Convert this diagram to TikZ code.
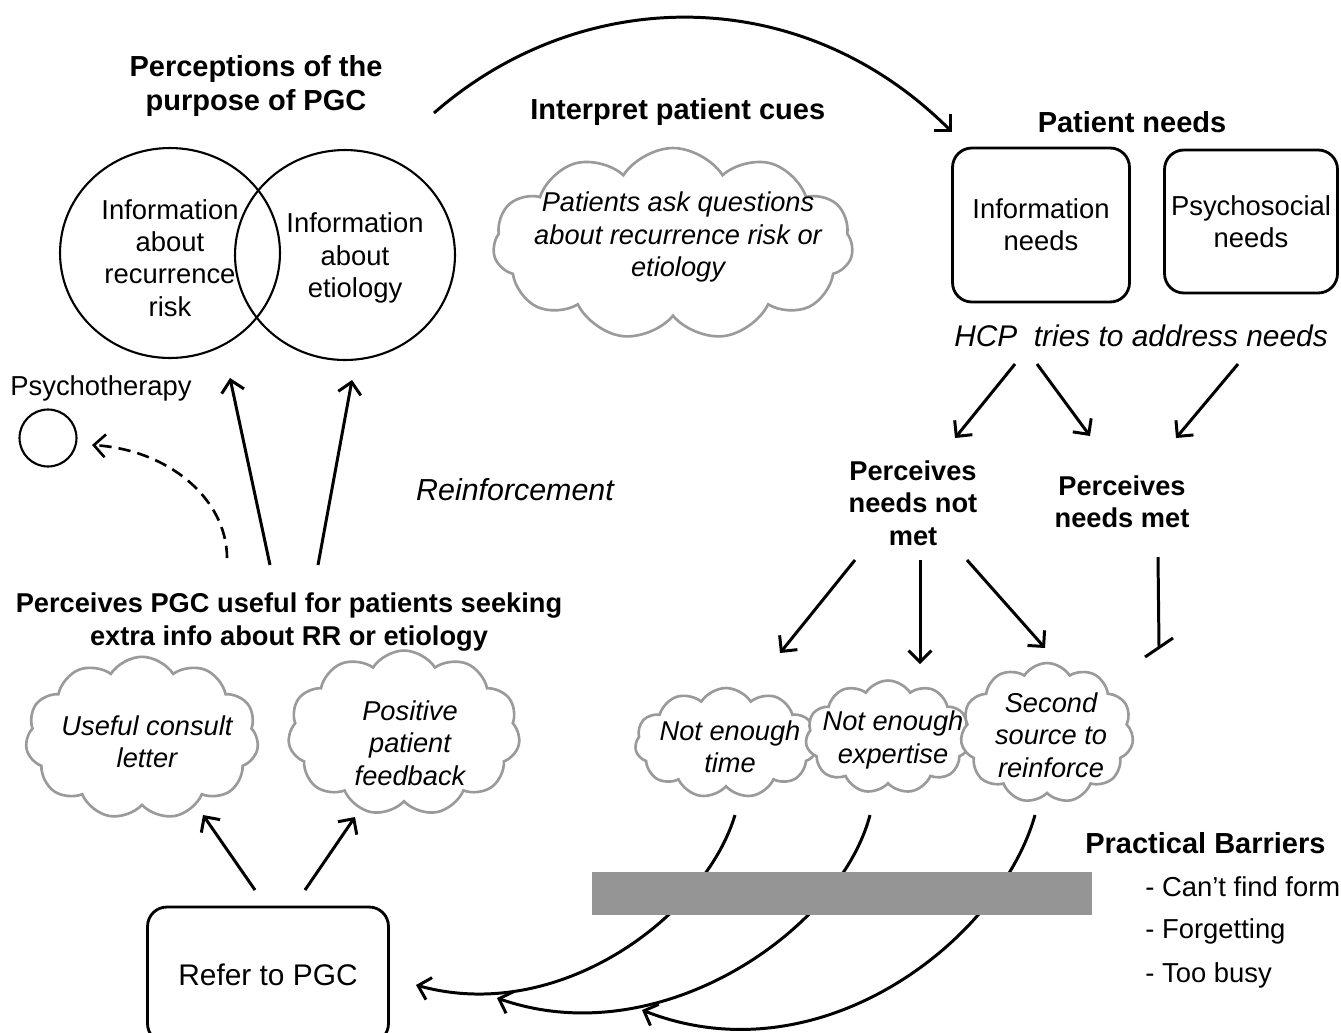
\documentclass[tikz,border=0pt]{standalone}
\usepackage{fontspec}
\setmainfont{Liberation Sans}
\usetikzlibrary{shapes.symbols,shapes.geometric,arrows.meta}
\definecolor{cloudgray}{HTML}{9A9A9A}
\definecolor{bargray}{HTML}{959595}
\begin{document}
\begin{tikzpicture}[x=0.02cm,y=-0.02cm,
  arr/.style={line width=1.7pt,-{Straight Barb[length=6.5pt,width=13pt]}},
  fB/.style={font=\fontsize{16.5}{19.8}\selectfont\bfseries,align=center,inner sep=0pt},
  fb/.style={font=\fontsize{15.5}{18.4}\selectfont\bfseries,align=center,inner sep=0pt},
  fn/.style={font=\fontsize{15.6}{18.3}\selectfont,align=center,inner sep=0pt},
  fi/.style={font=\fontsize{15.5}{18.4}\selectfont\itshape,align=center,inner sep=0pt},
  cl/.style={cloud,cloud puffs=11,cloud puff arc=115,cloud ignores aspect,draw=cloudgray,line width=1.5pt,fill=white,inner sep=0pt},
  rbox/.style={draw,rounded corners=11pt,line width=1.6pt,inner sep=0pt,align=center},
  ring/.style={ellipse,draw,line width=1.2pt,inner sep=0pt}]
\useasboundingbox (0,0) rectangle (1341,1032);

% Venn circles
\node[ring,minimum width=4.4cm,minimum height=4.2cm] (rr) at (170,253) {};
\node[ring,minimum width=4.4cm,minimum height=4.2cm] (eti) at (345,255) {};
\node[fn] (rrt) at (170,258) {Information\\about\\recurrence\\risk};
\node[fn] (etit) at (355,258) {Information\\about\\etiology};

% titles
\node[fB] (purp) at (256,86) {Perceptions of the\\purpose of PGC};
\node[fB,anchor=west] (cues) at (530,112) {Interpret patient cues};
\node[fB] (pneeds) at (1132,122) {Patient needs};

% patient cue cloud
\node[cl,minimum width=7.2cm,minimum height=3.84cm] (cue) at (673,244) {};
\node[fi] (cuet) at (678,237) {Patients ask questions\\about recurrence risk or\\etiology};

% needs boxes
\node[rbox,fn,minimum width=3.54cm,minimum height=3.08cm] (info) at (1041,225) {Information\\needs};
\node[rbox,fn,minimum width=3.46cm,minimum height=2.86cm] (psy) at (1251,221.5) {Psychosocial\\needs};
\node[fn,font=\fontsize{17}{20}\selectfont\itshape] (hcp) at (1141,336) {HCP\ \ tries to address needs};

\node[fb] (notmet) at (913,503) {Perceives\\needs not\\met};
\node[fb] (met) at (1122,502) {Perceives\\needs met};

% left side
\node[fn,anchor=west] (pt) at (10,388) {Psychotherapy};
\node[circle,draw,line width=1.2pt,minimum size=1.14cm,inner sep=0pt] (ptc) at (48,438) {};
\node[fn,font=\fontsize{17.3}{20}\selectfont\itshape] (reinf) at (515,490) {Reinforcement};
\node[fb] (useful) at (289,622) {Perceives PGC useful for patients seeking\\extra info about RR or etiology};

\node[cl,minimum width=4.66cm,minimum height=3.25cm] (letter) at (142,738) {};
\node[fi] (lettert) at (147,742) {Useful consult\\letter};
\node[cl,minimum width=4.64cm,minimum height=3.3cm] (feedb) at (404,733) {};
\node[fi] (feedbt) at (410,743) {Positive\\patient\\feedback};

\node[rbox,font=\fontsize{17}{20}\selectfont,minimum width=4.82cm,minimum height=2.72cm] (refer) at (268,975) {Refer to PGC};

% barrier clouds
\node[cl,minimum width=3.64cm,minimum height=2.2cm] (time) at (726,743) {};
\node[cl,minimum width=3.3cm,minimum height=2.26cm] (expert) at (888,737) {};
\node[cl,minimum width=3.46cm,minimum height=2.8cm] (second) at (1047,733) {};
\node[fi] (timet) at (730,747) {Not enough\\time};
\node[fi] (expertt) at (893,740) {Not enough\\expertise};
\node[fi] (secondt) at (1051,735) {Second\\source to\\reinforce};

% practical barriers
\node[fB,anchor=west] (pb) at (1085,843) {Practical Barriers};
\node[fn,anchor=west] (pb1) at (1145,887) {- Can’t find form};
\node[fn,anchor=west] (pb2) at (1145,931) {- Forgetting};
\node[fn,anchor=west] (pb3) at (1145,975) {- Too busy};

% coordinates
\coordinate (purpA) at (434,113);
\coordinate (needsA) at (952,132);
\coordinate (a1s) at (1015,364); \coordinate (a1e) at (955,438);
\coordinate (a2s) at (1037,364); \coordinate (a2e) at (1090,436);
\coordinate (a3s) at (1238,364); \coordinate (a3e) at (1176,438);
\coordinate (b1s) at (855,560);  \coordinate (b1e) at (780,653);
\coordinate (b2s) at (920,560);  \coordinate (b2e) at (920,664);
\coordinate (b3s) at (967,560);  \coordinate (b3e) at (1045,648);
\coordinate (u1s) at (270,565);  \coordinate (u1e) at (230,378);
\coordinate (u2s) at (318,565);  \coordinate (u2e) at (352,380);
\coordinate (r1s) at (255,890);  \coordinate (r1e) at (203,815);
\coordinate (r2s) at (305,890);  \coordinate (r2e) at (355,817);
\coordinate (d1s) at (227,558);  \coordinate (d1e) at (92,445);
\coordinate (ts) at (1158,557);  \coordinate (te) at (1159,647);
\coordinate (tl) at (1145,657);  \coordinate (tr) at (1173,638);
\coordinate (c1s) at (735,815);  \coordinate (c1e) at (416,985);
\coordinate (c2s) at (870,815);  \coordinate (c2e) at (497,998);
\coordinate (c3s) at (1035,815); \coordinate (c3e) at (642,1010);

% connectors
\draw[arr] (purpA) .. controls (580,-15) and (800,-20) .. (needsA);
\foreach \s/\e in {a1s/a1e,a2s/a2e,a3s/a3e,b1s/b1e,b2s/b2e,b3s/b3e,u1s/u1e,u2s/u2e,r1s/r1e,r2s/r2e}
  \draw[arr] (\s) -- (\e);
\draw[arr,line width=1.5pt,dash pattern=on 7pt off 4pt] (d1s) .. controls (227,500) and (170,450) .. (d1e);
\draw[line width=1.7pt] (ts) -- (te);
\draw[line width=1.7pt] (tl) -- (tr);

\draw[arr] (c1s) .. controls (705,915) and (560,1025) .. (c1e);
\draw[arr] (c2s) .. controls (840,930) and (660,1055) .. (c2e);
\draw[arr] (c3s) .. controls (1000,940) and (820,1080) .. (c3e);

\node[fill=bargray,minimum width=10cm,minimum height=0.86cm,inner sep=0pt] (bar) at (842,893.5) {};
\end{tikzpicture}
\end{document}
